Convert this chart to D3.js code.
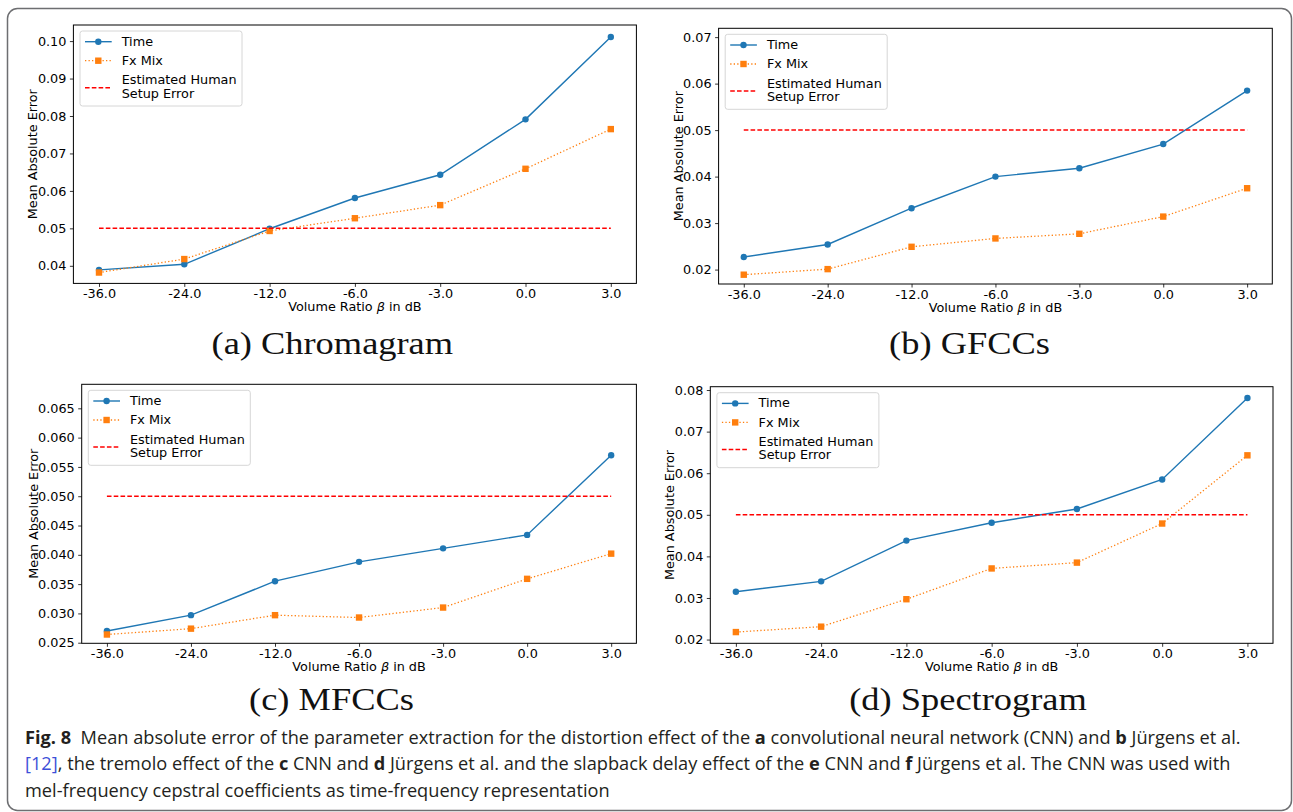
<!DOCTYPE html>
<html>
<head>
  <meta charset="UTF-8">
  <style>
    body { margin: 0; background: #fff; }
    svg { display: block; }
  </style>
</head>
<body>
<svg></svg>
<script src="https://d3js.org/d3.v7.min.js"></script>
<script>

let width = 1293, height = 812;

// x categories (volume ratio in dB)
const steps = ["-36.0", "-24.0", "-12.0", "-6.0", "-3.0", "0.0", "3.0"];

// mean absolute error
const chromaTime = [0.0389, 0.0404, 0.0499, 0.0581, 0.0643, 0.0791, 0.1011];
const chromaFx   = [0.0382, 0.0418, 0.0493, 0.0527, 0.0562, 0.0659, 0.0765];
const gfccTime   = [0.0227, 0.0254, 0.0332, 0.0400, 0.0418, 0.0470, 0.0585];
const gfccFx     = [0.0189, 0.0201, 0.0249, 0.0267, 0.0277, 0.0314, 0.0375];
const mfccTime   = [0.0270, 0.0297, 0.0355, 0.0388, 0.0411, 0.0434, 0.0570];
const mfccFx     = [0.0264, 0.0274, 0.0297, 0.0293, 0.0310, 0.0359, 0.0402];
const specTime   = [0.0315, 0.0340, 0.0438, 0.0481, 0.0514, 0.0585, 0.0781];
const specFx     = [0.0218, 0.0231, 0.0297, 0.0371, 0.0385, 0.0479, 0.0643];
const humanError = 0.05;

// y tick values
const chromaTicks = [0.04, 0.05, 0.06, 0.07, 0.08, 0.09, 0.10];
const gfccTicks   = [0.02, 0.03, 0.04, 0.05, 0.06, 0.07];
const mfccTicks   = [0.025, 0.030, 0.035, 0.040, 0.045, 0.050, 0.055, 0.060, 0.065];
const specTicks   = [0.02, 0.03, 0.04, 0.05, 0.06, 0.07, 0.08];

const legendLabels = ["Time", "Fx Mix", "Estimated Human", "Setup Error"];

const captionLines = [
  [["Fig. 8", true], ["\u00a0\u00a0Mean absolute error of the parameter extraction for the distortion effect of the "], ["a", true],
   [" convolutional neural network (CNN) and "], ["b", true], [" Jürgens et al."]],
  [["[12]", false, true], [", the tremolo effect of the "], ["c", true], [" CNN and "], ["d", true],
   [" Jürgens et al. and the slapback delay effect of the "], ["e", true], [" CNN and "], ["f", true],
   [" Jürgens et al. The CNN was used with"]],
  [["mel-frequency cepstral coefficients as time-frequency representation"]]
];

const blue = "#1f77b4", orange = "#ff7f0e", red = "#ff0000";
const sans = "DejaVu Sans", fs = 12.8;

let panels = [
  {title: "(a) Chromagram", time: chromaTime, fx: chromaFx, ticks: chromaTicks, fmt: ".2f",
   yDomain: [0.0353, 0.1043], left: 73.4, right: 636.4, top: 25, bottom: 283.4, yLabelGap: 36, capX: 332.3, capY: 354},
  {title: "(b) GFCCs", time: gfccTime, fx: gfccFx, ticks: gfccTicks, fmt: ".2f",
   yDomain: [0.0169, 0.0719], left: 718.6, right: 1272.3, top: 28.3, bottom: 284, yLabelGap: 36, capX: 969.5, capY: 354},
  {title: "(c) MFCCs", time: mfccTime, fx: mfccFx, ticks: mfccTicks, fmt: ".3f",
   yDomain: [0.0249, 0.0691], left: 81.7, right: 636.4, top: 384.3, bottom: 643.3, yLabelGap: 44, capX: 331.5, capY: 710},
  {title: "(d) Spectrogram", time: specTime, fx: specFx, ticks: specTicks, fmt: ".2f",
   yDomain: [0.0191, 0.0808], left: 710.3, right: 1273, top: 386.7, bottom: 643.3, yLabelGap: 36, capX: 968, capY: 710}
];

let svg = d3.select("svg")
    .attr("width", width)
    .attr("height", height)
    .attr("viewBox", "0 0 " + width + " " + height);

svg.append("rect").attr("width", width).attr("height", height).attr("fill", "#fff");

// outer rounded frame
svg.append("rect")
    .attr("x", 7.5).attr("y", 8.5)
    .attr("width", 1284).attr("height", 802)
    .attr("rx", 10)
    .attr("fill", "none")
    .attr("stroke", "#6d6e71")
    .attr("stroke-width", 1.5);

let capScale = null;

panels.forEach(p => {
    let g = svg.append("g");
    let x = d3.scalePoint().domain(steps).range([p.left, p.right]).padding(0.3);
    let y = d3.scaleLinear().domain(p.yDomain).range([p.bottom, p.top]);

    // axes
    g.append("g")
        .attr("transform", `translate(0,${p.bottom})`)
        .call(d3.axisBottom(x).tickSize(3.5).tickPadding(2))
        .call(a => a.select(".domain").remove())
        .attr("font-family", sans).attr("font-size", fs);
    g.append("g")
        .attr("transform", `translate(${p.left},0)`)
        .call(d3.axisLeft(y).tickValues(p.ticks).tickFormat(d3.format(p.fmt)).tickSize(3.5).tickPadding(3.5))
        .call(a => a.select(".domain").remove())
        .attr("font-family", sans).attr("font-size", fs);
    g.selectAll(".tick line").attr("stroke", "#000").attr("stroke-width", 0.8);

    // Time series
    let line = d3.line().x((d, i) => x(steps[i])).y(d => y(d));
    g.append("path").datum(p.time)
        .attr("d", line).attr("fill", "none")
        .attr("stroke", blue).attr("stroke-width", 1.4);
    g.append("g").selectAll("circle")
        .data(p.time).enter().append("circle")
        .attr("cx", (d, i) => x(steps[i]))
        .attr("cy", d => y(d))
        .attr("r", 3.2)
        .attr("fill", blue);

    // Fx Mix series
    g.append("path").datum(p.fx)
        .attr("d", line).attr("fill", "none")
        .attr("stroke", orange).attr("stroke-width", 1.3)
        .attr("stroke-dasharray", "1.3,2.2");
    g.append("g").selectAll("rect")
        .data(p.fx).enter().append("rect")
        .attr("x", (d, i) => x(steps[i]) - 3.2)
        .attr("y", d => y(d) - 3.2)
        .attr("width", 6.4).attr("height", 6.4)
        .attr("fill", orange);

    // human setup error
    g.append("line")
        .attr("x1", x(steps[0])).attr("x2", x(steps[steps.length - 1]))
        .attr("y1", y(humanError)).attr("y2", y(humanError))
        .attr("stroke", red).attr("stroke-width", 1.5)
        .attr("stroke-dasharray", "4.6,2.2");

    // axes frame
    g.append("rect")
        .attr("x", p.left).attr("y", p.top)
        .attr("width", p.right - p.left).attr("height", p.bottom - p.top)
        .attr("fill", "none").attr("stroke", "#000").attr("stroke-width", 1);

    // axis labels
    let xl = g.append("text")
        .attr("x", (p.left + p.right) / 2).attr("y", p.bottom + 28)
        .attr("text-anchor", "middle")
        .attr("font-family", sans).attr("font-size", fs);
    xl.append("tspan").text("Volume Ratio ");
    xl.append("tspan").attr("font-style", "italic").text("β");
    xl.append("tspan").text(" in dB");

    g.append("text")
        .attr("transform", `translate(${p.left - p.yLabelGap},${(p.top + p.bottom) / 2}) rotate(-90)`)
        .attr("text-anchor", "middle")
        .attr("font-family", sans).attr("font-size", fs)
        .text("Mean Absolute Error");

    // legend
    let lg = g.append("g").attr("transform", `translate(${p.left + 6.6},${p.top + 6})`);
    lg.append("rect")
        .attr("width", 162).attr("height", 75).attr("rx", 2.5)
        .attr("fill", "#fff").attr("fill-opacity", 0.8)
        .attr("stroke", "#d6d6d6").attr("stroke-width", 1);
    lg.append("line").attr("x1", 5).attr("x2", 31.7).attr("y1", 10.7).attr("y2", 10.7)
        .attr("stroke", blue).attr("stroke-width", 1.4);
    lg.append("circle").attr("cx", 18.3).attr("cy", 10.7).attr("r", 3.2).attr("fill", blue);
    lg.append("line").attr("x1", 5).attr("x2", 31.7).attr("y1", 29.7).attr("y2", 29.7)
        .attr("stroke", orange).attr("stroke-width", 1.3).attr("stroke-dasharray", "1.3,2.2");
    lg.append("rect").attr("x", 15.1).attr("y", 26.5).attr("width", 6.4).attr("height", 6.4).attr("fill", orange);
    lg.append("line").attr("x1", 5).attr("x2", 31.7).attr("y1", 56.7).attr("y2", 56.7)
        .attr("stroke", red).attr("stroke-width", 1.5).attr("stroke-dasharray", "4.6,2.2");
    [14.7, 34, 53.3, 66.7].forEach((by, i) => {
        lg.append("text").attr("x", 41.7).attr("y", by)
            .attr("font-family", sans).attr("font-size", fs)
            .text(legendLabels[i]);
    });

    // sub-figure caption
    let cap = svg.append("text")
        .attr("text-anchor", "middle")
        .attr("font-family", "Liberation Serif").attr("font-size", 31)
        .attr("fill", "#111")
        .text(p.title);
    if (capScale === null) capScale = 241.7 / cap.node().getComputedTextLength();
    cap.attr("transform", `translate(${p.capX},${p.capY}) scale(${capScale},1)`);
});

// figure caption
let capLines = captionLines.map((segs, li) => {
    let t = svg.append("text")
        .attr("font-family", "Open Sans").attr("font-size", 18)
        .attr("fill", "#231f20");
    segs.forEach(s => {
        t.append("tspan")
            .attr("font-weight", s[1] ? "bold" : null)
            .attr("fill", s[2] ? "#3d4fd8" : null)
            .text(s[0]);
    });
    return t;
});
let figScale = 1216 / capLines[0].node().getComputedTextLength();
[743.7, 770.3, 797].forEach((by, i) => {
    capLines[i].attr("transform", `translate(25,${by}) scale(${figScale},1)`);
});

</script>
</body>
</html>
